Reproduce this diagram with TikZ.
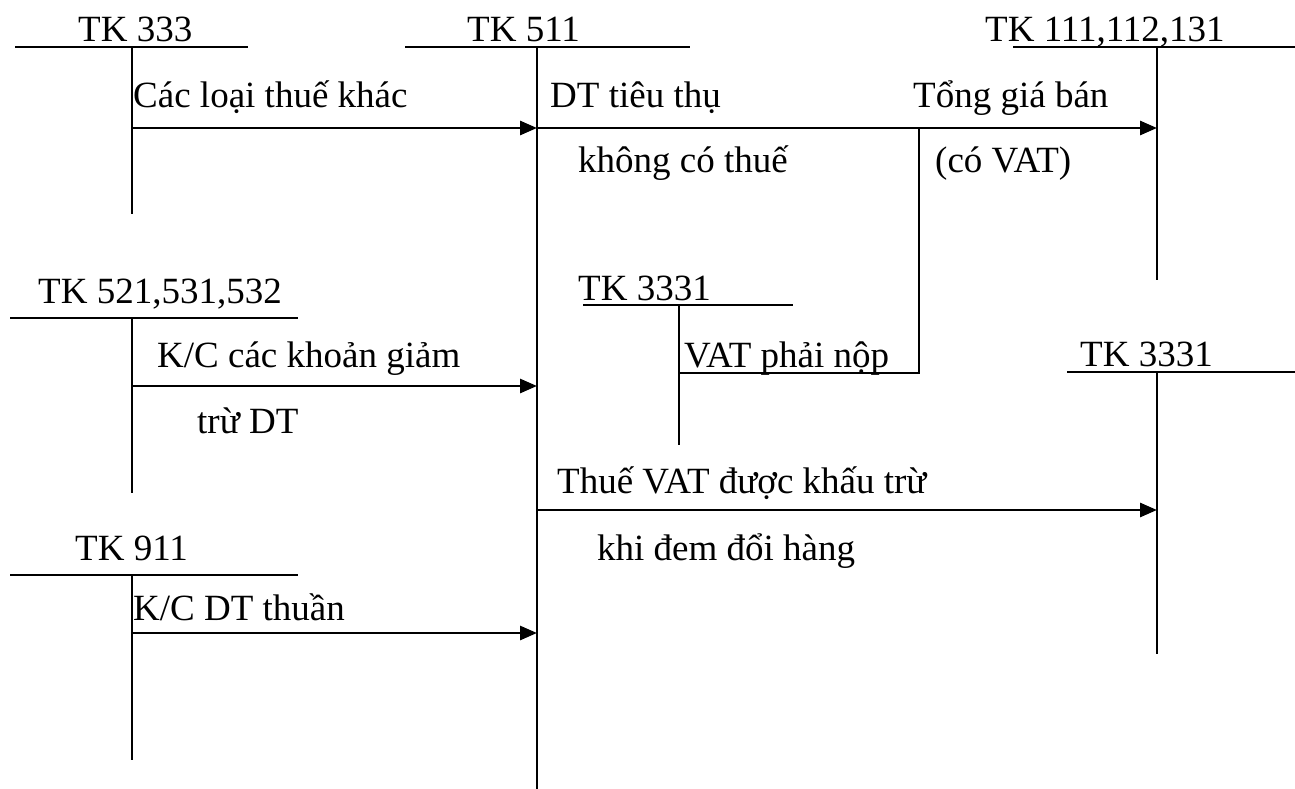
\documentclass[tikz,border=0pt]{standalone}
\usepackage{fontspec}
\setmainfont{Liberation Serif}
\usetikzlibrary{arrows.meta}
\begin{document}
\begin{tikzpicture}[x=1pt,y=-1pt,
  lbl/.style={inner sep=0pt,anchor=base west,font=\fontsize{37}{40}\selectfont},
  tline/.style={line width=2pt},
  flow/.style={line width=2.8pt,-{Triangle[length=17pt,width=14pt]}},
  link/.style={line width=2pt}]
\useasboundingbox (0,0) rectangle (1295,789);

% T-account headings
\node[lbl] (h333) at (78,42) {TK 333};
\node[lbl] (h511) at (467,42) {TK 511};
\node[lbl] (h111) at (985,42) {TK 111,112,131};
\node[lbl] (h521) at (38,303) {TK 521,531,532};
\node[lbl] (h3331a) at (578,300) {TK 3331};
\node[lbl] (h3331b) at (1080,366) {TK 3331};
\node[lbl] (h911) at (75,560) {TK 911};

% T-account bars
\draw[tline] (15,47) -- (248,47);
\draw[tline] (132,47) coordinate (t333) -- (132,214) coordinate (b333);
\draw[tline] (405,47) -- (690,47);
\draw[tline] (537,47) coordinate (t511) -- (537,789) coordinate (b511);
\draw[tline] (1013,47) -- (1295,47);
\draw[tline] (1157,47) coordinate (t111) -- (1157,280) coordinate (b111);
\draw[tline] (10,318) -- (298,318);
\draw[tline] (132,318) coordinate (t521) -- (132,493) coordinate (b521);
\draw[tline] (583,305) -- (793,305);
\draw[tline] (679,305) coordinate (t3331a) -- (679,445) coordinate (b3331a);
\draw[tline] (1067,372) -- (1295,372);
\draw[tline] (1157,372) coordinate (t3331b) -- (1157,654) coordinate (b3331b);
\draw[tline] (10,575) -- (298,575);
\draw[tline] (132,575) coordinate (t911) -- (132,760) coordinate (b911);

% Flow points
\coordinate (s1) at (132,128);  \coordinate (e1) at (537,128);
\coordinate (e2) at (1157,128); \coordinate (j2) at (919,128);
\coordinate (s3) at (132,386);  \coordinate (e3) at (537,386);
\coordinate (v1) at (679,373);  \coordinate (v2) at (919,373);
\coordinate (s4) at (537,510);  \coordinate (e4) at (1157,510);
\coordinate (s5) at (132,633);  \coordinate (e5) at (537,633);

% Entries
\draw[flow] (s1) -- (e1);
\draw[flow] (e1) -- (e2);
\draw[link] (v1) -- (v2) -- (j2);
\draw[flow] (s3) -- (e3);
\draw[flow] (s4) -- (e4);
\draw[flow] (s5) -- (e5);

% Entry labels
\node[lbl] (l1) at (133,108) {Các loại thuế khác};
\node[lbl] (l2a) at (550,108) {DT tiêu thụ};
\node[lbl] (l2b) at (578,172) {không có thuế};
\node[lbl] (l3a) at (913,108) {Tổng giá bán};
\node[lbl] (l3b) at (935,172) {(có VAT)};
\node[lbl] (l4) at (684,367) {VAT phải nộp};
\node[lbl] (l5a) at (157,367) {K/C các khoản giảm};
\node[lbl] (l5b) at (197,433) {trừ DT};
\node[lbl] (l6a) at (557,493) {Thuế VAT được khấu trừ};
\node[lbl] (l6b) at (597,560) {khi đem đổi hàng};
\node[lbl] (l7) at (133,620) {K/C DT thuần};
\end{tikzpicture}
\end{document}
